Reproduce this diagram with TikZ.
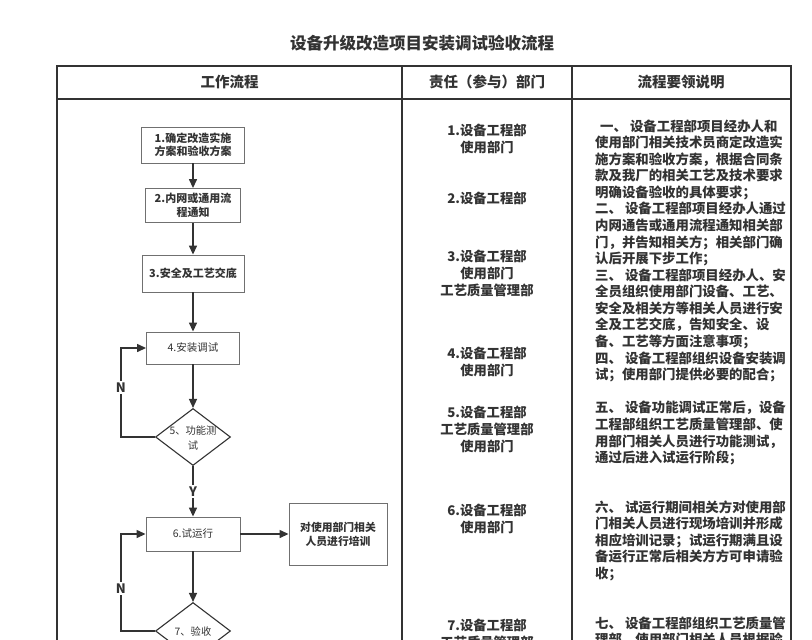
\documentclass[tikz,border=0pt]{standalone}
\usepackage{fontspec}
\setmainfont{Noto Sans CJK SC}
\usetikzlibrary{shapes.geometric,arrows.meta,positioning}
\definecolor{ink}{HTML}{333333}
\definecolor{frame}{HTML}{707070}

\begin{document}
\begin{tikzpicture}[
    x=1pt, y=-1pt,
    stepbox/.style={draw=frame, line width=0.9pt, rectangle, align=center, inner sep=0pt, text=ink, font=\fontsize{11}{13.5}\selectfont\bfseries},
    plainbox/.style={stepbox, font=\fontsize{10.5}{13}\selectfont},
    decision/.style={draw=ink, line width=1.1pt, diamond, minimum width=75pt, minimum height=57pt, inner sep=0pt},
    dectext/.style={align=center, inner sep=0pt, text=ink, font=\fontsize{10.3}{15}\selectfont},
    edge/.style={-{Triangle[length=9pt,width=8pt]}, line width=1.4pt, draw=ink},
    yn/.style={fill=white, inner sep=1.5pt, text=ink, font=\fontsize{13}{13}\selectfont\bfseries},
    grid/.style={line width=1.6pt, draw=ink},
    head/.style={text=ink, font=\fontsize{14.5}{16}\selectfont\bfseries},
    title/.style={text=ink, font=\fontsize{16.5}{18}\selectfont\bfseries},
    dept/.style={anchor=base, align=center, inner sep=0pt, text=ink, font=\fontsize{13.3}{17}\selectfont\bfseries},
    note/.style={anchor=base west, align=left, inner sep=0pt, text=ink, font=\fontsize{13.4}{16.57}\selectfont\bfseries},
]

\clip (0,0) rectangle (812,640);
\fill[white] (0,0) rectangle (812,640);

\node[title] (title) at (422,43) {设备升级改造项目安装调试验收流程};

% Table frame
\draw[grid] (57,700) -- (57,66) -- (791,66) -- (791,700);
\draw[grid] (57,99) -- (791,99);
\draw[grid] (402,66) -- (402,700);
\draw[grid] (572,66) -- (572,700);

% Header
\node[head] (hflow) at (229.5,82) {工作流程};
\node[head] (hdept) at (487,82) {责任（参与）部门};
\node[head] (hnote) at (681,82) {流程要领说明};

% Flow steps
\node[stepbox, minimum width=103pt, minimum height=36pt] (box1) at (193,145) {1.确定改造实施\\方案和验收方案};
\node[stepbox, minimum width=95pt, minimum height=34pt] (box2) at (193,205.5) {2.内网或通用流\\程通知};
\node[stepbox, minimum width=102pt, minimum height=37pt] (box3) at (193,273.5) {3.安全及工艺交底};
\node[plainbox, minimum width=93pt, minimum height=32pt] (box4) at (193,348) {4.安装调试};
\node[decision] (dec5) at (193,437) {};
\node[dectext] (dec5txt) at (193,438) {5、功能测\\试};
\node[plainbox, minimum width=94pt, minimum height=34pt] (box6) at (193,534) {6.试运行};
\node[stepbox, minimum width=98pt, minimum height=62pt, font=\fontsize{10.8}{14}\selectfont\bfseries] (train) at (338,534) {对使用部门相关\\人员进行培训};
\node[decision] (dec7) at (193,631) {};
\node[dectext] (dec7txt) at (193,632) {7、验收};

% Connectors
\draw[edge] (box1) -- (box2);
\draw[edge] (box2) -- (box3);
\draw[edge] (box3) -- (box4);
\draw[edge] (box4) -- (dec5);
\draw[edge] (dec5.west) -- ++(-34,0) |- node[yn, pos=0.28] (nA) {N} (box4.west);
\draw[edge] (dec5) -- node[yn] (yA) {Y} (box6);
\draw[edge] (box6) -- (train);
\draw[edge] (box6) -- (dec7);
\draw[edge] (dec7.west) -- ++(-34,0) |- node[yn, pos=0.22] (nB) {N} (box6.west);

% Departments (base = last line)
\node[dept] (dept1) at (487,152) {1.设备工程部\\使用部门};
\node[dept] (dept2) at (487,203) {2.设备工程部};
\node[dept] (dept3) at (487,295) {3.设备工程部\\使用部门\\工艺质量管理部};
\node[dept] (dept4) at (487,375) {4.设备工程部\\使用部门};
\node[dept] (dept5) at (487,451) {5.设备工程部\\工艺质量管理部\\使用部门};
\node[dept] (dept6) at (487,532) {6.设备工程部\\使用部门};
\node[dept] (dept7) at (487,647) {7.设备工程部\\工艺质量管理部};

% Notes (base = last line)
\node[note] (note1) at (595,197.3) {\hspace*{5pt}一、\ 设备工程部项目经办人和\\使用部门相关技术员商定改造实\\施方案和验收方案，根据合同条\\款及我厂的相关工艺及技术要求\\明确设备验收的具体要求；};
\node[note] (note2) at (595,263.7) {二、\ 设备工程部项目经办人通过\\内网通告或通用流程通知相关部\\门，并告知相关方；相关部门确\\认后开展下步工作；};
\node[note] (note3) at (595,346.3) {三、\ 设备工程部项目经办人、安\\全员组织使用部门设备、工艺、\\安全及相关方等相关人员进行安\\全及工艺交底，告知安全、设\\备、工艺等方面注意事项；};
\node[note] (note4) at (595,379.6) {四、\ 设备工程部组织设备安装调\\试；使用部门提供必要的配合；};
\node[note] (note5) at (595,462.7) {五、\ 设备功能调试正常后，设备\\工程部组织工艺质量管理部、使\\用部门相关人员进行功能测试，\\通过后进入试运行阶段；};
\node[note] (note6) at (595,578.3) {六、\ 试运行期间相关方对使用部\\门相关人员进行现场培训并形成\\相应培训记录；试运行期满且设\\备运行正常后相关方方可申请验\\收；};
\node[note] (note7) at (595,644.6) {七、\ 设备工程部组织工艺质量管\\理部、使用部门相关人员根据验};

\end{tikzpicture}
\end{document}
